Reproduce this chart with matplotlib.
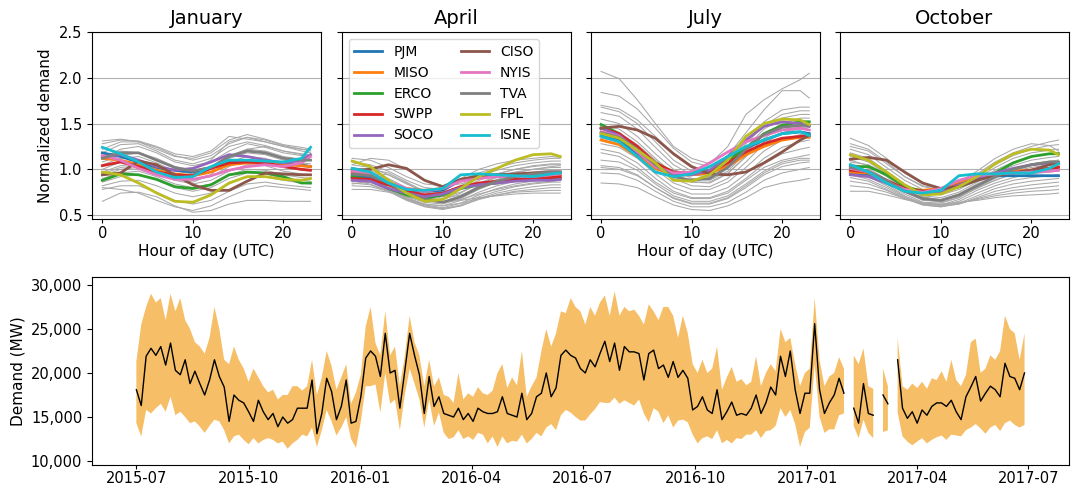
import numpy as np
import pandas as pd
import matplotlib
matplotlib.use("Agg")
import matplotlib.pyplot as plt
import matplotlib.dates as mdates
from matplotlib.ticker import FuncFormatter

nan = np.nan

# ---- top row: normalized daily demand profiles ----
hours = [0, 2, 4, 6, 8, 10, 12, 14, 16, 18, 20, 22, 23]
regions = ['PJM', 'MISO', 'ERCO', 'SWPP', 'SOCO', 'CISO', 'NYIS', 'TVA', 'FPL', 'ISNE']
months = ['January', 'April', 'July', 'October']

jan_regions = [
    [1.18, 1.14, 1.08, 1.02, 0.99, 0.97, 1.02, 1.08, 1.09, 1.08, 1.07, 1.05, 1.03],
    [1.12, 1.10, 1.05, 0.99, 0.95, 0.93, 0.97, 1.05, 1.07, 1.06, 1.05, 1.04, 1.03],
    [0.88, 0.95, 0.94, 0.89, 0.81, 0.79, 0.83, 0.94, 0.97, 0.96, 0.92, 0.85, 0.85],
    [1.04, 1.08, 1.03, 0.97, 0.94, 0.93, 1.01, 1.07, 1.08, 1.07, 1.03, 1.00, 0.99],
    [1.14, 1.16, 1.10, 1.03, 0.99, 1.01, 1.08, 1.16, 1.14, 1.10, 1.07, 1.10, 1.16],
    [0.94, 0.96, 1.09, 1.05, 0.94, 0.83, 0.77, 0.77, 0.87, 0.96, 0.95, 0.94, 0.94],
    [1.15, 1.10, 1.01, 0.94, 0.89, 0.89, 0.93, 0.99, 1.03, 1.05, 1.03, 1.07, 1.14],
    [1.12, 1.18, 1.18, 1.10, 1.02, 0.98, 1.02, 1.14, 1.20, 1.18, 1.12, 1.10, 1.10],
    [0.97, 0.94, 0.85, 0.74, 0.65, 0.64, 0.72, 0.85, 0.92, 0.92, 0.89, 0.88, 0.90],
    [1.24, 1.17, 1.08, 0.97, 0.91, 0.92, 1.03, 1.10, 1.10, 1.09, 1.08, 1.12, 1.24],
]
apr_regions = [
    [0.92, 0.92, 0.85, 0.77, 0.76, 0.77, 0.88, 0.92, 0.94, 0.94, 0.94, 0.95, 0.96],
    [0.96, 0.94, 0.85, 0.79, 0.77, 0.79, 0.89, 0.92, 0.94, 0.94, 0.93, 0.93, 0.94],
    [0.92, 0.88, 0.79, 0.72, 0.68, 0.72, 0.79, 0.83, 0.85, 0.88, 0.89, 0.90, 0.90],
    [0.90, 0.89, 0.83, 0.76, 0.72, 0.74, 0.81, 0.85, 0.87, 0.89, 0.90, 0.91, 0.92],
    [0.88, 0.87, 0.79, 0.74, 0.70, 0.73, 0.80, 0.83, 0.85, 0.87, 0.88, 0.88, 0.89],
    [0.99, 1.00, 1.05, 1.01, 0.88, 0.81, 0.89, 0.93, 0.94, 0.95, 0.96, 0.97, 0.97],
    [0.98, 0.96, 0.87, 0.79, 0.76, 0.79, 0.87, 0.90, 0.92, 0.92, 0.92, 0.94, 0.95],
    [0.95, 0.93, 0.85, 0.74, 0.67, 0.64, 0.70, 0.80, 0.87, 0.92, 0.95, 0.97, 0.97],
    [1.09, 1.03, 0.88, 0.74, 0.65, 0.67, 0.79, 0.92, 1.01, 1.10, 1.16, 1.17, 1.14],
    [1.01, 0.97, 0.85, 0.78, 0.77, 0.79, 0.94, 0.95, 0.94, 0.93, 0.92, 0.95, 0.96],
]
jul_regions = [
    [1.37, 1.32, 1.17, 1.03, 0.95, 0.94, 0.97, 1.10, 1.23, 1.32, 1.39, 1.41, 1.39],
    [1.32, 1.27, 1.14, 1.01, 0.94, 0.94, 0.96, 1.03, 1.16, 1.25, 1.32, 1.35, 1.35],
    [1.49, 1.39, 1.23, 1.07, 0.97, 0.96, 0.99, 1.10, 1.23, 1.39, 1.48, 1.52, 1.52],
    [1.45, 1.39, 1.25, 1.07, 0.97, 0.96, 0.97, 1.07, 1.19, 1.28, 1.34, 1.36, 1.37],
    [1.45, 1.37, 1.21, 1.03, 0.94, 0.94, 0.99, 1.14, 1.32, 1.47, 1.52, 1.50, 1.47],
    [1.45, 1.47, 1.43, 1.34, 1.17, 1.03, 0.95, 0.94, 0.97, 1.07, 1.19, 1.32, 1.37],
    [1.41, 1.36, 1.19, 1.03, 0.96, 0.97, 1.07, 1.19, 1.30, 1.37, 1.43, 1.45, 1.43],
    [1.40, 1.35, 1.22, 1.05, 0.92, 0.88, 0.90, 1.02, 1.22, 1.38, 1.46, 1.48, 1.48],
    [1.39, 1.34, 1.21, 1.07, 0.88, 0.87, 0.94, 1.10, 1.36, 1.50, 1.55, 1.54, 1.49],
    [1.36, 1.30, 1.14, 0.97, 0.92, 0.95, 1.03, 1.14, 1.25, 1.32, 1.39, 1.41, 1.37],
]
oct_regions = [
    [0.96, 0.94, 0.85, 0.77, 0.74, 0.76, 0.85, 0.90, 0.93, 0.93, 0.93, 0.93, 0.93],
    [0.97, 0.96, 0.87, 0.79, 0.77, 0.79, 0.85, 0.92, 0.96, 0.98, 0.99, 1.01, 1.03],
    [1.03, 1.03, 0.94, 0.81, 0.76, 0.76, 0.81, 0.88, 0.96, 1.07, 1.14, 1.17, 1.17],
    [0.99, 0.97, 0.88, 0.79, 0.76, 0.77, 0.83, 0.89, 0.94, 0.96, 0.99, 1.01, 1.02],
    [0.94, 0.92, 0.85, 0.78, 0.74, 0.76, 0.83, 0.90, 0.96, 1.01, 1.05, 1.07, 1.07],
    [1.11, 1.13, 1.10, 0.97, 0.85, 0.79, 0.81, 0.88, 0.93, 0.96, 0.99, 1.05, 1.07],
    [1.01, 0.97, 0.86, 0.78, 0.75, 0.79, 0.88, 0.93, 0.95, 0.96, 0.97, 0.98, 0.99],
    [1.02, 0.98, 0.88, 0.76, 0.68, 0.66, 0.72, 0.82, 0.92, 1.00, 1.05, 1.08, 1.08],
    [1.16, 1.10, 0.97, 0.83, 0.72, 0.73, 0.81, 0.92, 1.06, 1.17, 1.22, 1.21, 1.16],
    [1.05, 0.97, 0.85, 0.76, 0.74, 0.77, 0.93, 0.95, 0.95, 0.96, 0.96, 1.01, 1.06],
]

# other balancing authorities (thin grey lines)
jan_other = [
    [1.31, 1.33, 1.30, 1.22, 1.14, 1.12, 1.18, 1.32, 1.38, 1.33, 1.27, 1.24, 1.22],
    [1.28, 1.32, 1.31, 1.25, 1.17, 1.14, 1.20, 1.36, 1.33, 1.30, 1.25, 1.22, 1.20],
    [1.22, 1.30, 1.30, 1.24, 1.15, 1.10, 1.15, 1.28, 1.35, 1.32, 1.26, 1.22, 1.21],
    [1.18, 1.27, 1.28, 1.20, 1.10, 1.06, 1.12, 1.25, 1.30, 1.26, 1.20, 1.17, 1.16],
    [1.12, 1.22, 1.25, 1.18, 1.08, 1.04, 1.08, 1.20, 1.28, 1.24, 1.18, 1.15, 1.14],
    [1.08, 1.15, 1.18, 1.12, 1.03, 0.99, 1.03, 1.15, 1.22, 1.20, 1.14, 1.11, 1.10],
    [1.05, 1.12, 1.14, 1.07, 0.98, 0.95, 1.00, 1.12, 1.18, 1.16, 1.10, 1.07, 1.06],
    [1.00, 1.08, 1.10, 1.03, 0.95, 0.92, 0.97, 1.08, 1.14, 1.12, 1.06, 1.03, 1.02],
    [0.97, 1.04, 1.06, 1.00, 0.92, 0.88, 0.92, 1.03, 1.10, 1.08, 1.02, 0.99, 0.98],
    [0.93, 1.00, 1.02, 0.97, 0.88, 0.84, 0.88, 0.98, 1.05, 1.04, 0.98, 0.95, 0.94],
    [0.90, 0.96, 0.98, 0.92, 0.84, 0.80, 0.84, 0.94, 1.00, 0.99, 0.94, 0.91, 0.90],
    [0.86, 0.92, 0.94, 0.88, 0.80, 0.76, 0.80, 0.90, 0.96, 0.95, 0.90, 0.88, 0.87],
    [0.82, 0.87, 0.88, 0.82, 0.74, 0.70, 0.74, 0.84, 0.92, 0.92, 0.88, 0.85, 0.84],
    [0.78, 0.82, 0.82, 0.75, 0.66, 0.62, 0.66, 0.76, 0.84, 0.86, 0.83, 0.81, 0.80],
    [0.65, 0.74, 0.75, 0.70, 0.60, 0.53, 0.55, 0.62, 0.66, 0.66, 0.65, 0.65, 0.65],
    [0.80, 0.78, 0.74, 0.66, 0.59, 0.55, 0.60, 0.70, 0.78, 0.82, 0.80, 0.78, 0.77],
    [1.15, 1.20, 1.18, 1.10, 1.02, 1.00, 1.10, 1.30, 1.35, 1.30, 1.25, 1.20, 1.18],
    [0.95, 1.02, 1.04, 0.98, 0.90, 0.86, 0.94, 1.12, 1.22, 1.25, 1.20, 1.16, 1.14],
]
apr_other = [
    [1.12, 1.10, 1.02, 0.92, 0.84, 0.82, 0.90, 1.00, 1.06, 1.10, 1.12, 1.14, 1.13],
    [1.08, 1.05, 0.98, 0.88, 0.80, 0.78, 0.86, 0.96, 1.02, 1.07, 1.10, 1.12, 1.12],
    [1.05, 1.02, 0.94, 0.84, 0.76, 0.74, 0.82, 0.92, 0.99, 1.04, 1.07, 1.09, 1.09],
    [1.02, 0.99, 0.90, 0.80, 0.72, 0.70, 0.78, 0.88, 0.95, 1.00, 1.03, 1.05, 1.05],
    [1.00, 0.96, 0.86, 0.76, 0.69, 0.67, 0.74, 0.85, 0.92, 0.97, 1.00, 1.02, 1.02],
    [0.97, 0.93, 0.83, 0.73, 0.66, 0.64, 0.71, 0.82, 0.89, 0.94, 0.97, 0.99, 0.99],
    [0.95, 0.91, 0.80, 0.70, 0.64, 0.62, 0.68, 0.78, 0.86, 0.91, 0.94, 0.96, 0.96],
    [0.93, 0.89, 0.79, 0.69, 0.62, 0.60, 0.66, 0.75, 0.82, 0.87, 0.90, 0.92, 0.92],
    [0.91, 0.88, 0.78, 0.68, 0.61, 0.58, 0.63, 0.72, 0.79, 0.84, 0.87, 0.89, 0.89],
    [0.89, 0.86, 0.77, 0.67, 0.60, 0.57, 0.61, 0.70, 0.76, 0.81, 0.84, 0.86, 0.86],
    [0.87, 0.84, 0.76, 0.66, 0.59, 0.56, 0.60, 0.68, 0.74, 0.78, 0.81, 0.83, 0.83],
    [0.85, 0.83, 0.76, 0.67, 0.60, 0.57, 0.60, 0.67, 0.72, 0.76, 0.78, 0.80, 0.80],
    [0.82, 0.81, 0.76, 0.68, 0.62, 0.60, 0.63, 0.68, 0.72, 0.75, 0.76, 0.77, 0.77],
    [0.78, 0.78, 0.75, 0.70, 0.66, 0.64, 0.66, 0.69, 0.71, 0.73, 0.74, 0.74, 0.74],
    [0.90, 0.95, 0.94, 0.85, 0.74, 0.68, 0.72, 0.80, 0.86, 0.90, 0.93, 0.95, 0.96],
    [0.97, 1.00, 0.96, 0.86, 0.76, 0.70, 0.75, 0.84, 0.91, 0.96, 1.00, 1.03, 1.04],
    [1.05, 1.12, 1.10, 1.00, 0.88, 0.82, 0.84, 0.90, 0.95, 1.00, 1.04, 1.06, 1.06],
    [0.84, 0.86, 0.82, 0.74, 0.67, 0.64, 0.67, 0.73, 0.78, 0.82, 0.85, 0.87, 0.88],
]
jul_other = [
    [2.07, 1.99, 1.76, 1.50, 1.25, 1.12, 1.06, 1.25, 1.60, 1.76, 1.88, 1.98, 2.05],
    [1.84, 1.80, 1.66, 1.45, 1.23, 1.08, 1.03, 1.15, 1.40, 1.65, 1.86, 1.86, 1.78],
    [1.70, 1.66, 1.54, 1.36, 1.16, 1.02, 0.98, 1.08, 1.30, 1.52, 1.65, 1.68, 1.68],
    [1.68, 1.63, 1.50, 1.30, 1.10, 0.98, 0.95, 1.05, 1.28, 1.48, 1.60, 1.64, 1.64],
    [1.62, 1.58, 1.44, 1.24, 1.05, 0.94, 0.92, 1.02, 1.24, 1.44, 1.56, 1.60, 1.60],
    [1.55, 1.50, 1.36, 1.17, 1.00, 0.90, 0.88, 0.98, 1.18, 1.38, 1.50, 1.56, 1.56],
    [1.48, 1.44, 1.30, 1.12, 0.95, 0.86, 0.85, 0.95, 1.14, 1.34, 1.46, 1.52, 1.52],
    [1.40, 1.36, 1.24, 1.06, 0.90, 0.82, 0.81, 0.90, 1.08, 1.28, 1.40, 1.46, 1.46],
    [1.34, 1.30, 1.18, 1.00, 0.85, 0.78, 0.78, 0.86, 1.02, 1.20, 1.32, 1.38, 1.40],
    [1.28, 1.24, 1.12, 0.95, 0.80, 0.73, 0.73, 0.80, 0.95, 1.12, 1.24, 1.30, 1.32],
    [1.22, 1.18, 1.07, 0.90, 0.76, 0.69, 0.69, 0.76, 0.90, 1.06, 1.17, 1.22, 1.24],
    [1.10, 1.08, 0.99, 0.84, 0.71, 0.65, 0.65, 0.71, 0.84, 0.98, 1.08, 1.12, 1.12],
    [1.04, 1.02, 0.94, 0.80, 0.68, 0.62, 0.62, 0.68, 0.80, 0.94, 1.03, 1.07, 1.08],
    [0.96, 0.95, 0.88, 0.76, 0.65, 0.59, 0.59, 0.64, 0.75, 0.88, 0.96, 1.00, 1.02],
    [0.85, 0.84, 0.80, 0.70, 0.61, 0.56, 0.55, 0.60, 0.69, 0.80, 0.85, 0.88, 0.90],
    [1.18, 1.14, 1.02, 0.86, 0.74, 0.68, 0.68, 0.74, 0.88, 1.02, 1.10, 1.14, 1.16],
    [1.44, 1.40, 1.27, 1.10, 0.94, 0.86, 0.86, 0.96, 1.14, 1.30, 1.40, 1.44, 1.46],
    [1.02, 1.00, 0.93, 0.80, 0.69, 0.63, 0.63, 0.69, 0.82, 0.96, 1.06, 1.10, 1.10],
]
oct_other = [
    [1.34, 1.26, 1.12, 0.96, 0.84, 0.80, 0.85, 0.95, 1.08, 1.18, 1.25, 1.30, 1.32],
    [1.28, 1.22, 1.08, 0.92, 0.81, 0.78, 0.83, 0.93, 1.05, 1.15, 1.22, 1.26, 1.27],
    [1.22, 1.16, 1.02, 0.88, 0.78, 0.75, 0.80, 0.90, 1.02, 1.12, 1.18, 1.21, 1.22],
    [1.18, 1.12, 0.98, 0.84, 0.74, 0.72, 0.78, 0.88, 0.99, 1.08, 1.14, 1.17, 1.18],
    [1.14, 1.08, 0.95, 0.81, 0.71, 0.69, 0.75, 0.86, 0.96, 1.04, 1.10, 1.13, 1.14],
    [1.10, 1.04, 0.92, 0.78, 0.69, 0.67, 0.73, 0.84, 0.93, 1.01, 1.06, 1.09, 1.10],
    [1.06, 1.01, 0.89, 0.75, 0.66, 0.65, 0.71, 0.82, 0.91, 0.98, 1.02, 1.05, 1.06],
    [1.03, 0.98, 0.86, 0.73, 0.64, 0.63, 0.69, 0.80, 0.88, 0.95, 0.99, 1.01, 1.02],
    [1.00, 0.95, 0.84, 0.71, 0.63, 0.61, 0.67, 0.77, 0.85, 0.91, 0.95, 0.97, 0.98],
    [0.97, 0.92, 0.82, 0.70, 0.62, 0.60, 0.65, 0.74, 0.82, 0.88, 0.91, 0.93, 0.94],
    [0.94, 0.89, 0.80, 0.69, 0.61, 0.59, 0.63, 0.71, 0.79, 0.84, 0.87, 0.89, 0.90],
    [0.91, 0.87, 0.78, 0.68, 0.61, 0.59, 0.62, 0.69, 0.76, 0.80, 0.83, 0.85, 0.86],
    [0.87, 0.84, 0.77, 0.68, 0.62, 0.60, 0.62, 0.68, 0.73, 0.77, 0.79, 0.81, 0.82],
    [0.82, 0.80, 0.75, 0.68, 0.63, 0.61, 0.63, 0.67, 0.71, 0.74, 0.76, 0.77, 0.78],
    [0.76, 0.76, 0.72, 0.67, 0.63, 0.62, 0.64, 0.66, 0.69, 0.71, 0.72, 0.73, 0.74],
    [1.25, 1.20, 1.06, 0.92, 0.82, 0.79, 0.86, 0.98, 1.12, 1.22, 1.28, 1.26, 1.20],
    [0.98, 0.96, 0.88, 0.76, 0.67, 0.64, 0.69, 0.80, 0.90, 0.98, 1.04, 1.08, 1.10],
    [1.08, 1.05, 0.95, 0.80, 0.70, 0.66, 0.70, 0.79, 0.88, 0.95, 1.00, 1.02, 1.03],
]

# ---- bottom: daily demand (thousand MW), read every 4 days from 2015-07-01 ----
start_date = '2015-07-01'
demand_mid = [
    18.1, 16.3, 21.9, 22.8, 22.0, 23.0, 20.9, 23.4, 20.3, 19.8, 21.5, 18.8, 20.2, 18.8, 17.5, 19.2,
    21.5, 19.6, 18.4, 14.5, 17.5, 16.9, 16.6, 15.6, 14.5, 16.9, 15.6, 14.7, 15.4, 13.9, 15.0, 14.3,
    14.7, 16.0, 16.0, 16.0, 19.2,
    13.1, 15.4, 19.4, 17.9, 14.7, 16.2, 19.2, 14.3, 14.5, 17.3, 21.7, 22.5, 21.9, 19.6, 24.5, 20.0,
    20.3, 16.0, 20.2, 24.5, 22.0, 19.8, 15.4, 19.6, 16.2, 17.3, 15.4, 15.2, 15.0, 16.0, 14.7, 15.4,
    14.5, 16.0, 15.6, 15.4, 15.4,
    15.6, 17.3, 15.4, 15.2, 15.0, 17.7, 14.7, 15.4, 17.3, 17.7, 20.0, 17.3, 18.3, 22.0, 22.6, 22.0,
    21.7, 20.5, 20.0, 21.5, 20.7, 22.2, 23.6, 21.3, 23.4, 20.3, 23.0, 22.4, 22.4, 22.2, 19.2, 22.2,
    22.6, 20.5, 20.9, 19.5, 21.3,
    19.5, 20.3, 19.4, 15.8, 16.2, 17.3, 15.8, 15.4, 18.1, 14.7, 15.6, 16.7, 15.2, 15.4, 15.2, 16.0,
    17.5, 15.4, 16.6, 18.4, 17.5, 21.9, 19.6, 22.5, 18.1, 15.4, 17.7, 17.7, 25.6, 18.1, 15.4, 16.6,
    17.5, 19.4, 17.7, nan, 16.0,
    14.3, 18.8, 15.4, 15.2, nan, 17.5, 16.5, nan, 21.5, 16.0, 14.85, 15.6, 14.3, 15.8, 15.2, 16.2,
    16.6, 16.6, 16.2, 16.9, 15.6, 14.7, 17.3, 18.4, 19.6, 16.8, 17.7, 18.5, 18.1, 17.3, 21.1, 19.6,
    19.4, 18.1, 20.0,
]
demand_hi = [
    21.3, 25.5, 27.5, 29.0, 28.0, 28.5, 26.0, 29.0, 27.0, 28.5, 26.0, 25.0, 23.5, 23.0, 22.2, 24.0,
    27.5, 25.0, 21.5, 21.0, 23.0, 21.5, 20.5, 19.0, 20.5, 19.5, 18.5, 17.8, 18.1, 17.0, 17.5, 17.5,
    18.5, 18.5, 18.0, 18.5, 21.5,
    17.5, 19.5, 22.5, 20.8, 18.1, 19.5, 21.0, 16.5, 17.8, 19.8, 25.3, 27.5, 23.4, 22.0, 27.0, 22.0,
    23.0, 18.5, 21.9, 26.5, 23.5, 22.0, 18.5, 21.5, 18.5, 19.5, 17.5, 17.3, 16.6, 20.0, 17.0, 17.7,
    17.3, 18.4, 17.7, 17.5, 18.0,
    20.0, 21.0, 18.3, 19.5, 18.6, 22.5, 17.3, 18.5, 19.5, 22.5, 25.0, 23.0, 24.5, 27.0, 26.8, 28.5,
    27.5, 27.0, 25.5, 27.5, 26.5, 28.0, 28.8, 26.5, 29.3, 26.5, 27.5, 27.0, 27.2, 26.5, 25.5, 27.8,
    27.0, 26.0, 27.5, 27.5, 26.5,
    24.0, 26.5, 24.5, 21.0, 20.0, 21.5, 20.0, 20.5, 23.0, 18.1, 19.5, 20.7, 19.0, 19.3, 18.6, 19.0,
    21.9, 18.5, 20.0, 21.0, 20.2, 25.0, 23.5, 24.0, 21.0, 18.5, 20.0, 20.5, 28.5, 21.5, 18.5, 19.6,
    20.0, 21.8, 20.5, nan, 22.0,
    21.0, 22.8, 18.5, 18.2, nan, 20.5, 18.5, nan, 24.0, 18.5, 18.1, 18.8, 18.3, 19.0, 18.2, 19.4,
    19.2, 20.2, 19.0, 21.5, 19.2, 18.5, 19.8, 23.5, 23.9, 20.0, 20.5, 22.0, 21.5, 22.5, 26.5, 25.0,
    24.5, 21.5, 24.5,
]
demand_lo = [
    14.3, 12.8, 15.8, 15.4, 16.0, 16.5, 15.6, 17.3, 15.2, 15.6, 15.0, 14.3, 14.5, 13.9, 13.2, 14.0,
    14.7, 14.5, 13.5, 12.0, 12.8, 13.0, 12.4, 11.9, 12.6, 12.0, 12.4, 12.6, 12.4, 12.0, 12.2, 11.4,
    12.0, 12.4, 13.0, 12.8, 13.8,
    11.6, 13.5, 15.8, 14.5, 12.9, 13.8, 15.0, 12.5, 11.5, 14.5, 18.5, 18.5, 18.7, 15.5, 20.0, 16.5,
    17.0, 13.5, 17.5, 20.5, 18.8, 17.0, 13.8, 17.0, 14.0, 15.5, 13.2, 12.5, 12.7, 13.5, 12.5, 12.8,
    12.4, 13.2, 13.0, 12.0, 12.8,
    11.6, 12.8, 12.0, 12.3, 12.2, 13.0, 12.0, 12.5, 13.2, 12.8, 13.8, 14.2, 13.5, 15.2, 15.8, 15.5,
    15.0, 14.6, 14.6, 15.3, 15.9, 16.7, 16.6, 16.6, 17.2, 16.5, 16.9, 16.6, 16.3, 17.0, 15.4, 14.4,
    16.0, 15.6, 14.3, 15.2, 13.8,
    14.6, 14.7, 14.4, 13.0, 12.0, 12.6, 12.8, 12.5, 13.5, 12.0, 12.4, 12.0, 12.6, 12.5, 13.0, 13.0,
    13.5, 12.6, 13.4, 13.5, 14.0, 16.0, 15.0, 15.8, 14.2, 11.6, 13.3, 13.8, 21.0, 15.0, 13.2, 13.6,
    13.6, 15.2, 15.4, nan, 14.0,
    12.6, 14.7, 13.2, 12.6, nan, 13.3, 13.5, nan, 15.5, 12.8, 12.2, 11.8, 12.2, 12.6, 12.0, 12.4,
    12.7, 12.9, 12.4, 13.0, 12.9, 12.8, 13.5, 13.8, 14.2, 13.7, 13.1, 13.8, 14.1, 13.4, 14.3, 14.6,
    14.1, 13.8, 14.1,
]

plt.rcParams['font.size'] = 11
plt.rcParams['xtick.labelsize'] = 10.5
plt.rcParams['ytick.labelsize'] = 10.5
plt.rcParams['xtick.major.pad'] = 2
plt.rcParams['xtick.major.size'] = 3

fig = plt.figure(figsize=(10.73, 4.87), dpi=100)

region_sets = [jan_regions, apr_regions, jul_regions, oct_regions]
other_sets = [jan_other, apr_other, jul_other, oct_other]
lefts = [0.0857, 0.3185, 0.5505, 0.7828]

for i, (month, reg, oth) in enumerate(zip(months, region_sets, other_sets)):
    ax = fig.add_axes([lefts[i], 0.550, 0.2134, 0.384])
    for line in oth:
        ax.plot(hours, line, color='#a8a8a8', lw=0.75)
    for j, name in enumerate(regions):
        ax.plot(hours, reg[j], color='C%d' % j, lw=2, label=name)
    ax.set_ylim(0.455, 2.5)
    ax.set_yticks([0.5, 1.0, 1.5, 2.0, 2.5])
    ax.set_xticks([0, 10, 20])
    ax.grid(axis='y', color='#b0b0b0', lw=0.8)
    ax.set_axisbelow(True)
    ax.set_title(month, fontsize=14)
    ax.set_xlabel('Hour of day (UTC)', labelpad=2)
    if i == 0:
        ax.set_ylabel('Normalized demand')
    else:
        ax.tick_params(labelleft=False)
    if i == 1:
        ax.legend(loc='upper left', ncol=2, fontsize=10)

# bottom time series
dates = pd.date_range(start_date, periods=len(demand_mid), freq='4D')
mid = np.array(demand_mid) * 1000
hi = np.array(demand_hi) * 1000
lo = np.array(demand_lo) * 1000

ax = fig.add_axes([0.0857, 0.0452, 0.9105, 0.386])
ax.fill_between(dates, lo, hi, color='#f6be66', lw=0)
ax.plot(dates, mid, color='black', lw=1)
ax.set_ylim(9550, 30900)
ax.set_yticks([10000, 15000, 20000, 25000, 30000])
ax.yaxis.set_major_formatter(FuncFormatter(lambda v, p: '{:,.0f}'.format(v)))
ax.xaxis.set_major_locator(mdates.MonthLocator(bymonth=[1, 4, 7, 10]))
ax.xaxis.set_major_formatter(mdates.DateFormatter('%Y-%m'))
ax.tick_params(axis='x', pad=1)
ax.set_ylabel('Demand (MW)')

fig.savefig('out.png', dpi=100)
